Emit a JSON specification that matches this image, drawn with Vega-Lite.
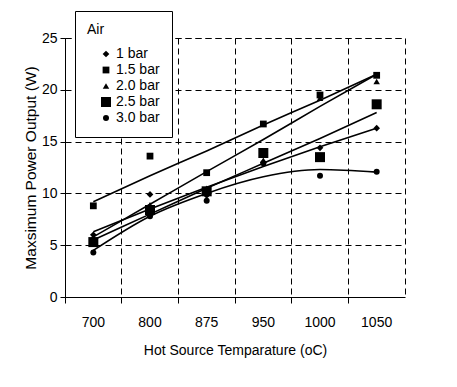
{
  "$schema": "https://vega.github.io/schema/vega-lite/v6.json",
  "width": 340,
  "height": 259,
  "autosize": "none",
  "padding": {"left": 65, "top": 38, "right": 52, "bottom": 90},
  "background": "white",
  "config": {
    "font": "Liberation Sans",
    "view": {"stroke": "black", "strokeDash": [6, 4], "strokeWidth": 1},
    "axis": {
      "domainColor": "black", "tickColor": "black", "labelColor": "black", "titleColor": "black",
      "gridColor": "black", "gridDash": [6, 4], "gridWidth": 1, "gridOpacity": 1,
      "labelFont": "Liberation Sans", "titleFont": "Liberation Sans", "titleFontWeight": "normal",
      "labelFontSize": 14, "domainWidth": 1, "tickWidth": 1
    },
    "legend": {
      "labelFont": "Liberation Sans", "titleFont": "Liberation Sans",
      "labelFontSize": 14, "titleFontSize": 14, "titleFontWeight": "normal",
      "labelColor": "black", "titleColor": "black",
      "strokeColor": "black", "fillColor": "white", "padding": 12,
      "rowPadding": 2, "symbolOffset": 12, "labelOffset": 3, "titlePadding": 10,
      "symbolFillColor": "black", "symbolStrokeColor": "black", "symbolStrokeWidth": 0
    }
  },
  "datasets": {
    "points": [
      {"series": "1 bar", "temp": 700, "power": 6.0},
      {"series": "1 bar", "temp": 800, "power": 9.9},
      {"series": "1 bar", "temp": 875, "power": 9.8},
      {"series": "1 bar", "temp": 950, "power": 13.0},
      {"series": "1 bar", "temp": 1000, "power": 14.4},
      {"series": "1 bar", "temp": 1050, "power": 16.3},
      {"series": "1.5 bar", "temp": 700, "power": 8.8},
      {"series": "1.5 bar", "temp": 800, "power": 13.6},
      {"series": "1.5 bar", "temp": 875, "power": 12.0},
      {"series": "1.5 bar", "temp": 950, "power": 16.7},
      {"series": "1.5 bar", "temp": 1000, "power": 19.5},
      {"series": "1.5 bar", "temp": 1050, "power": 21.4},
      {"series": "2.0 bar", "temp": 700, "power": 5.8},
      {"series": "2.0 bar", "temp": 800, "power": 8.9},
      {"series": "2.0 bar", "temp": 875, "power": 10.5},
      {"series": "2.0 bar", "temp": 950, "power": 13.2},
      {"series": "2.0 bar", "temp": 1000, "power": 19.2},
      {"series": "2.0 bar", "temp": 1050, "power": 20.8},
      {"series": "2.5 bar", "temp": 700, "power": 5.3},
      {"series": "2.5 bar", "temp": 800, "power": 8.4},
      {"series": "2.5 bar", "temp": 875, "power": 10.2},
      {"series": "2.5 bar", "temp": 950, "power": 13.9},
      {"series": "2.5 bar", "temp": 1000, "power": 13.5},
      {"series": "2.5 bar", "temp": 1050, "power": 18.6},
      {"series": "3.0 bar", "temp": 700, "power": 4.3},
      {"series": "3.0 bar", "temp": 800, "power": 7.8},
      {"series": "3.0 bar", "temp": 875, "power": 9.3},
      {"series": "3.0 bar", "temp": 950, "power": 12.9},
      {"series": "3.0 bar", "temp": 1000, "power": 11.7},
      {"series": "3.0 bar", "temp": 1050, "power": 12.1}
    ],
    "fits": [
      {"fit": "1.5 bar", "temp": 700, "power": 9.2},
      {"fit": "1.5 bar", "temp": 800, "power": 11.7},
      {"fit": "1.5 bar", "temp": 875, "power": 14.1},
      {"fit": "1.5 bar", "temp": 950, "power": 16.6},
      {"fit": "1.5 bar", "temp": 1000, "power": 19.0},
      {"fit": "1.5 bar", "temp": 1050, "power": 21.5},
      {"fit": "2.0 bar", "temp": 700, "power": 5.8},
      {"fit": "2.0 bar", "temp": 800, "power": 8.95},
      {"fit": "2.0 bar", "temp": 875, "power": 12.1},
      {"fit": "2.0 bar", "temp": 950, "power": 15.2},
      {"fit": "2.0 bar", "temp": 1000, "power": 18.4},
      {"fit": "2.0 bar", "temp": 1050, "power": 21.5},
      {"fit": "2.5 bar", "temp": 700, "power": 5.5},
      {"fit": "2.5 bar", "temp": 800, "power": 8.0},
      {"fit": "2.5 bar", "temp": 875, "power": 10.5},
      {"fit": "2.5 bar", "temp": 950, "power": 12.9},
      {"fit": "2.5 bar", "temp": 1000, "power": 15.3},
      {"fit": "2.5 bar", "temp": 1050, "power": 17.8},
      {"fit": "1 bar", "temp": 700, "power": 6.3},
      {"fit": "1 bar", "temp": 800, "power": 8.5},
      {"fit": "1 bar", "temp": 875, "power": 10.6},
      {"fit": "1 bar", "temp": 950, "power": 12.6},
      {"fit": "1 bar", "temp": 1000, "power": 14.5},
      {"fit": "1 bar", "temp": 1050, "power": 16.3},
      {"fit": "3.0 bar", "temp": 700, "power": 4.5},
      {"fit": "3.0 bar", "temp": 800, "power": 7.8},
      {"fit": "3.0 bar", "temp": 875, "power": 10.0},
      {"fit": "3.0 bar", "temp": 950, "power": 11.6},
      {"fit": "3.0 bar", "temp": 1000, "power": 12.3},
      {"fit": "3.0 bar", "temp": 1050, "power": 12.05}
    ]
  },
  "layer": [
    {
      "data": {"name": "fits"},
      "mark": {"type": "line", "color": "black", "strokeWidth": 1.6, "interpolate": "monotone"},
      "encoding": {
        "x": {"field": "temp", "type": "ordinal"},
        "y": {"field": "power", "type": "quantitative"},
        "detail": {"field": "fit"}
      }
    },
    {
      "data": {"name": "points"},
      "mark": {"type": "point", "filled": true, "opacity": 1, "color": "black"},
      "encoding": {
        "x": {
          "field": "temp", "type": "ordinal",
          "scale": {"type": "band", "paddingInner": 0, "paddingOuter": 0},
          "axis": {"bandPosition": 0, "labelAngle": 0, "labelAlign": "center", "labelOffset": 0,
                   "title": "Hot Source Temparature (oC)",
                   "tickSize": 6, "labelPadding": 19, "titlePadding": 14, "titleFontSize": 14, "grid": true}
        },
        "y": {
          "field": "power", "type": "quantitative",
          "scale": {"domain": [0, 25], "nice": false},
          "axis": {"values": [0, 5, 10, 15, 20, 25], "title": "Maxsimum Power Output (W)",
                   "tickSize": 5, "labelPadding": 3, "titlePadding": 3, "titleFontSize": 15.5, "grid": true}
        },
        "shape": {
          "field": "series", "type": "ordinal",
          "scale": {"domain": ["1 bar", "1.5 bar", "2.0 bar", "2.5 bar", "3.0 bar"],
                    "range": ["diamond", "square", "triangle-up", "square", "circle"]},
          "legend": {"orient": "none", "legendX": 10, "legendY": -27, "title": "Air", "titleAnchor": "start"}
        },
        "size": {
          "field": "series", "type": "ordinal",
          "scale": {"type": "ordinal", "domain": ["1 bar", "1.5 bar", "2.0 bar", "2.5 bar", "3.0 bar"],
                    "range": [45, 46, 42, 100, 36]},
          "legend": {"orient": "none", "legendX": 10, "legendY": -27, "title": "Air", "titleAnchor": "start"}
        }
      }
    }
  ]
}
